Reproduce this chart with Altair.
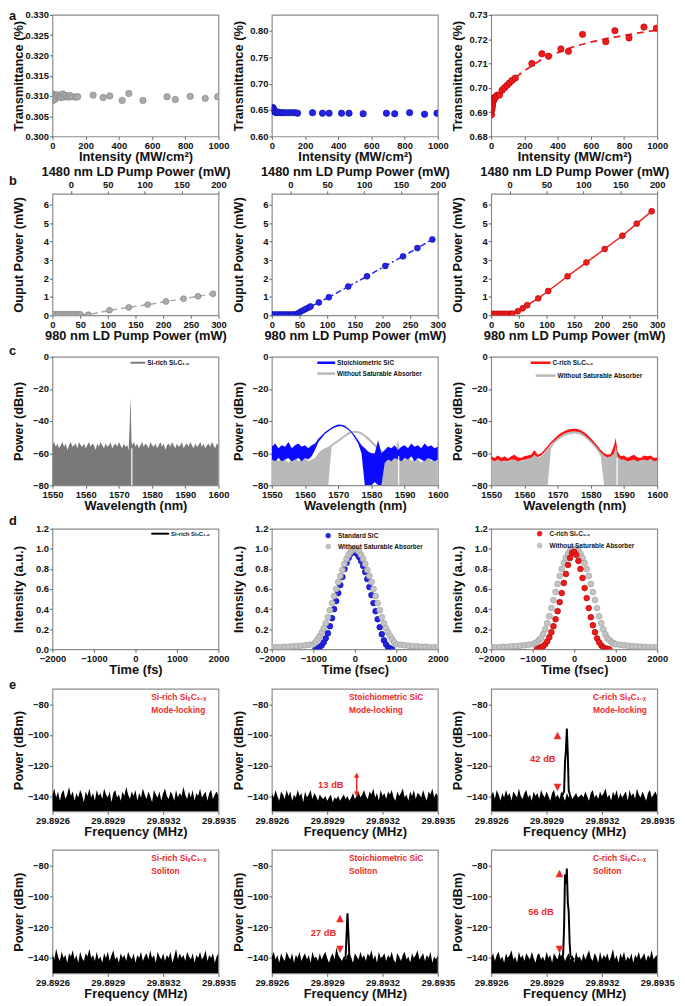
import altair as alt
import pandas as pd

FONT = "Liberation Sans"
NARROW = "Liberation Sans Narrow, Liberation Sans, Arial, sans-serif"
SYM = "DejaVu Sans"

W = 168
H_A, H_B, H_C, H_D, H_E1, H_E2 = 123, 123, 130, 122, 124, 125
COL_SP = 54
ROW_SP = 0
TITLE_X = -27

GRAY_PT, GRAY_ED = "#ababab", "#7c7c7c"
BLUE_PT, BLUE_ED = "#2424e8", "#0a0a99"
RED_PT, RED_ED = "#f01c1c", "#a80000"
SPEC_GRAY = "#b9b9b9"
SPEC_DARK = "#7a7a7a"
SPEC_BLUE = "#0a0aff"
SPEC_RED = "#ff1010"
ANN = "#ee2a2a"

# ---------------- row a : transmittance ----------------
A_XT = [0, 200, 400, 600, 800, 1000]
A1_X = [3, 6, 9, 12, 16, 22, 30, 40, 50, 62, 68, 80, 95, 105, 120, 140, 152,
        245, 305, 345, 420, 460, 545, 690, 740, 830, 920, 995]
A1_Y = [0.3089, 0.3104, 0.3096, 0.3100, 0.3092, 0.3098, 0.3103, 0.3099, 0.3096, 0.3105,
        0.3097, 0.3101, 0.3097, 0.3101, 0.3098, 0.3097, 0.3098,
        0.3102, 0.3096, 0.3100, 0.3089, 0.3106, 0.3089, 0.3098, 0.3091, 0.3099, 0.3094, 0.3098]
A1_YT = [0.300, 0.305, 0.310, 0.315, 0.320, 0.325, 0.330]

A2_X = [3, 6, 10, 15, 20, 28, 38, 50, 65, 80, 100, 120, 140, 155,
        245, 305, 345, 420, 465, 550, 690, 740, 830, 920, 995]
A2_Y = [0.648, 0.655, 0.652, 0.650, 0.646, 0.645, 0.646, 0.645, 0.645, 0.645, 0.645, 0.645,
        0.645, 0.644, 0.645, 0.644, 0.644, 0.644, 0.644, 0.643, 0.644, 0.643, 0.645, 0.642, 0.644]
A2_YT = [0.60, 0.65, 0.70, 0.75, 0.80]

A3_X = [2, 4, 6, 8, 10, 12, 15, 20, 25, 35, 50, 65, 80, 95, 110, 125, 145,
        245, 305, 345, 420, 465, 550, 690, 745, 830, 920, 995]
A3_Y = [0.689, 0.691, 0.692, 0.693, 0.694, 0.695, 0.695, 0.696, 0.696, 0.697, 0.697, 0.699,
        0.700, 0.701, 0.702, 0.703, 0.704, 0.710, 0.714, 0.713, 0.716, 0.715, 0.722, 0.719,
        0.7235, 0.7205, 0.725, 0.7245]
A3_FIT_X = [0, 10, 25, 50, 100, 150, 200, 300, 400, 500, 600, 700, 800, 900, 1000]
A3_FIT_Y = [0.6885, 0.692, 0.695, 0.698, 0.7015, 0.7045, 0.707, 0.7115, 0.7145, 0.717,
            0.7188, 0.7203, 0.7216, 0.7227, 0.7237]
A3_YT = [0.68, 0.69, 0.70, 0.71, 0.72, 0.73]

# ---------------- row b : output power ----------------
B_XT = [0, 50, 100, 150, 200, 250, 300]
B_TT = [0, 50, 100, 150, 200]
B_YT = [0, 1, 2, 3, 4, 5, 6]
B1_X = [0, 5, 10, 15, 20, 25, 30, 35, 40, 45, 50, 65, 103, 138, 172, 205, 237, 263, 290]
B1_Y = [0.06, 0.06, 0.06, 0.06, 0.06, 0.06, 0.06, 0.06, 0.06, 0.06, 0.06, 0.03,
        0.27, 0.43, 0.58, 0.75, 0.90, 1.03, 1.17]
B2_X = [0, 5, 10, 15, 20, 25, 30, 35, 40, 45, 48, 52, 57, 62, 67, 70,
        85, 103, 138, 172, 205, 237, 263, 290]
B2_Y = [0.05, 0.05, 0.05, 0.05, 0.05, 0.05, 0.05, 0.05, 0.05, 0.06, 0.12, 0.20, 0.28, 0.36,
        0.43, 0.48, 0.70, 0.98, 1.56, 2.12, 2.68, 3.20, 3.65, 4.12]
B3_X = [0, 5, 10, 15, 20, 25, 30, 35, 38, 48, 57, 65, 85, 103, 138, 172, 205, 237, 263, 290]
B3_Y = [0.08, 0.08, 0.08, 0.08, 0.08, 0.08, 0.08, 0.08, 0.08, 0.22, 0.38, 0.55,
        0.92, 1.32, 2.12, 2.87, 3.60, 4.32, 4.98, 5.65]

# ---------------- row c : optical spectra ----------------
C_XT = [1550, 1560, 1570, 1580, 1590, 1600]
C_YT = [-80, -60, -40, -20, 0]
C1_X = [1550 + 0.5 * i for i in range(101)]
C1_UP = [-55, -53, -56, -54, -57, -55, -53, -56, -54, -58,
         -55, -53, -56, -55, -54, -57, -53, -55, -56, -54,
         -57, -55, -53, -56, -54, -55, -58, -54, -56, -53,
         -55, -57, -54, -56, -55, -53, -57, -55, -54, -56,
         -53, -55, -57, -54, -56, -55, -58, -54, -55, -53,
         -56, -54, -57, -55, -53, -56, -54, -55, -57, -53,
         -55, -56, -54, -57, -55, -53, -56, -54, -58, -55,
         -54, -56, -53, -55, -57, -54, -56, -55, -53, -57,
         -55, -54, -56, -53, -55, -57, -54, -56, -55, -53,
         -56, -54, -57, -55, -54, -56, -53, -55, -57, -54,
         -55]
C1_SPK_X = [1573.0, 1573.3, 1573.45, 1573.6, 1573.8, 1574.0]
C1_SPK_Y = [-55, -40, -26, -32, -52, -55]

C_X = list(range(1550, 1601))
C2_BLUE_UP = [-56, -54, -57, -55, -56, -53, -57, -55, -54, -56,
              -55, -57, -55, -54, -51, -49, -47, -45.5, -44, -43,
              -42.2, -42.3, -43, -44.5, -46.5, -49, -52, -55, -57, -59,
              -60, -60, -52, -60, -58, -56, -57, -55, -58, -56,
              -55, -57, -54, -56, -55, -57, -54, -56, -55, -57, -56]
C2_BLUE_LO = [-64, -65, -63, -65, -64, -63, -65, -64, -63, -65,
              -63, -64, -62, -58, -53, -50.5, -48, -46.5, -45, -44,
              -43.2, -43.3, -44, -45.5, -47.5, -50.5, -54, -60, -80, -80,
              -80, -78, -80, -80, -66, -64, -65, -63, -64, -65,
              -63, -64, -62, -65, -63, -64, -65, -63, -64, -65, -64]
C2_GRAY_UP = [-64, -62, -65, -63, -64, -66, -63, -62, -65, -64,
              -63, -65, -64, -63, -60, -58, -57, -56, -54.5, -53,
              -51.5, -50, -48.5, -47, -46.3, -46, -46.3, -47, -48.5, -50,
              -52, -54, -56, -58, -60, -61, -62, -60, -52, -63,
              -64, -62, -65, -63, -64, -66, -63, -62, -65, -64, -63]
C2_GRAY_LO = [-80, -80, -80, -80, -80, -80, -80, -80, -80, -80,
              -80, -80, -80, -80, -80, -80, -80, -80, -56, -54.5,
              -53, -51.5, -50, -48.5, -47.5, -47.3, -47.5, -48.5, -50, -52,
              -54, -56, -58, -80, -80, -80, -80, -80, -80, -80,
              -80, -80, -80, -80, -80, -80, -80, -80, -80, -80, -80]

C3_X = list(range(1550, 1588)) + [1587.5] + list(range(1588, 1601))
C3_RED_UP = [-62, -63, -61.5, -63, -62, -63.5, -62, -61, -62.5, -63,
             -62, -61.5, -61, -58, -61, -60, -58, -55.5, -53, -51,
             -49, -47.5, -46.3, -45.5, -45, -44.8, -45, -45.7, -47, -48.7,
             -50.7, -53, -55.5, -58, -60, -61, -60.5, -55,
             -50.5,
             -59, -62, -61.5, -63, -62, -61, -62.5, -63, -61.5, -62, -61.5, -63, -62.5]
C3_RED_LO = [-64, -65, -64, -65, -64.5, -65, -64, -64, -65, -64.5,
             -64, -63.5, -63, -61, -62.5, -61.5, -59.5, -57, -54.5, -52.5,
             -50.5, -49, -47.8, -47, -46.5, -46.3, -46.5, -47.2, -48.5, -50.2,
             -52.2, -54.5, -57, -59.5, -61.5, -62.5, -62, -60,
             -55,
             -62, -64, -64, -65, -64.5, -64, -65, -64.5, -64, -64.5, -63.5, -65, -64.5]
C3_GRAY_UP = [-64, -65, -63.5, -65, -64, -65.5, -64, -63, -64.5, -65,
              -64, -63.5, -63, -59, -63, -62, -60, -57, -55, -52,
              -50, -48.5, -47.3, -46.5, -46, -45.8, -46, -46.7, -48, -49.7,
              -51.7, -54, -56.5, -59, -61, -62, -61.5, -57,
              -52,
              -61, -64, -63.5, -65, -64, -63, -64.5, -65, -63.5, -64, -63.5, -65, -64.5]
C3_GRAY_LO = [-80, -80, -80, -80, -80, -80, -80, -80, -80, -80,
              -80, -80, -80, -80, -80, -80, -80, -80, -57, -54,
              -52, -50.5, -49.3, -48.5, -48, -47.8, -48, -48.7, -50, -51.7,
              -53.7, -56, -58.5, -62, -80, -80, -80, -80,
              -80,
              -80, -80, -80, -80, -80, -80, -80, -80, -80, -80, -80, -80, -80]

# ---------------- row d : autocorrelation ----------------
D_XT = [-2000, -1000, 0, 1000, 2000]
D_YT = [0.0, 0.2, 0.4, 0.6, 0.8, 1.0, 1.2]
D2_BLUE_X = list(range(-950, 901, 50))
D2_BLUE_Y = [0.00, 0.01, 0.02, 0.04, 0.07, 0.11, 0.16, 0.23, 0.31, 0.40,
             0.48, 0.56, 0.64, 0.72, 0.80, 0.86, 0.91, 0.95, 0.98, 0.97,
             0.95, 0.92, 0.88, 0.83, 0.77, 0.70, 0.62, 0.54, 0.46, 0.38,
             0.30, 0.22, 0.15, 0.09, 0.05, 0.02, 0.01, 0.00]
D_GRAY_X = (list(range(-2000, -1000, 100)) + list(range(-1000, 1001, 50))
            + list(range(1100, 2001, 100)))
D2_GRAY_Y = [0.02, 0.02, 0.02, 0.025, 0.025, 0.03, 0.03, 0.035, 0.04, 0.045,
             0.05, 0.07, 0.10, 0.13, 0.17, 0.21, 0.26, 0.32, 0.39, 0.46,
             0.53, 0.60, 0.67, 0.73, 0.79, 0.85, 0.90, 0.94, 0.97, 0.99,
             1.00,
             0.99, 0.97, 0.94, 0.90, 0.85, 0.79, 0.73, 0.67, 0.60, 0.53,
             0.46, 0.39, 0.32, 0.26, 0.21, 0.17, 0.13, 0.10, 0.07, 0.05,
             0.045, 0.04, 0.035, 0.03, 0.03, 0.025, 0.025, 0.02, 0.02, 0.02]
D3_RED_X = list(range(-900, 851, 50))
D3_RED_Y = [0.00, 0.01, 0.02, 0.03, 0.05, 0.08, 0.12, 0.17, 0.23, 0.30,
            0.38, 0.47, 0.56, 0.66, 0.75, 0.84, 0.91, 0.96, 0.97, 0.94,
            0.88, 0.80, 0.71, 0.61, 0.51, 0.41, 0.32, 0.24, 0.17, 0.11,
            0.07, 0.04, 0.02, 0.01, 0.005, 0.00]
D3_GRAY_Y = [0.02, 0.02, 0.02, 0.025, 0.025, 0.03, 0.03, 0.035, 0.04, 0.045,
             0.05, 0.06, 0.07, 0.09, 0.11, 0.15, 0.20, 0.26, 0.33, 0.41,
             0.49, 0.57, 0.65, 0.73, 0.80, 0.86, 0.91, 0.95, 0.98, 1.00,
             1.00,
             1.00, 0.98, 0.95, 0.91, 0.86, 0.80, 0.73, 0.65, 0.57, 0.49,
             0.41, 0.33, 0.26, 0.20, 0.15, 0.11, 0.09, 0.07, 0.06, 0.05,
             0.045, 0.04, 0.035, 0.03, 0.03, 0.025, 0.025, 0.02, 0.02, 0.02]

# ---------------- row e : RF spectra ----------------
E_XT = [29.8926, 29.8929, 29.8932, 29.8935]
E_YT = [-140, -120, -100, -80]
E_X = [round(29.8926 + i * 0.00001, 5) for i in range(91)]
E1L = [-139, -135, -141, -137, -143, -138, -136, -142, -139, -134,
       -140, -137, -143, -138, -141, -136, -139, -144, -137, -140,
       -135, -141, -138, -143, -136, -140, -138, -142, -135, -139,
       -141, -137, -144, -138, -136, -141, -139, -143, -137, -140,
       -134, -139, -142, -137, -140, -136, -143, -138, -141, -135,
       -139, -142, -137, -140, -144, -136, -139, -141, -137, -143,
       -138, -135, -140, -142, -137, -139, -143, -136, -141, -138,
       -140, -134, -139, -142, -137, -141, -136, -143, -138, -140,
       -135, -141, -139, -137, -143, -138, -136, -142, -139, -137,
       -140]
E1M = [-138, -141, -136, -140, -143, -137, -139, -142, -136, -140,
       -137, -143, -139, -141, -136, -140, -138, -144, -137, -141,
       -139, -136, -142, -138, -140, -143, -139, -141, -142, -140,
       -143, -141, -139, -144, -141, -142, -140, -143, -141, -139,
       -142, -140, -143, -141, -138, -142, -140, -137, -141, -139,
       -136, -140, -142, -137, -139, -135, -141, -138, -143, -136,
       -140, -138, -142, -137, -139, -136, -141, -143, -137, -140,
       -138, -135, -141, -139, -143, -137, -140, -136, -142, -138,
       -139, -141, -136, -140, -143, -137, -139, -135, -141, -138,
       -140]
E1R = [-140, -137, -142, -136, -139, -143, -138, -141, -136, -140,
       -138, -143, -137, -139, -141, -135, -140, -142, -138, -136,
       -141, -139, -143, -137, -140, -138, -142, -136, -139, -141,
       -137, -140, -143, -138, -136, -141, -139, -142, -137, -140,
       -143, -138, -141, -139, -142, -140, -138, -141, -140, -139,
       -141, -137, -140, -143, -138, -136, -141, -139, -142, -137,
       -140, -138, -135, -141, -139, -143, -137, -140, -136, -142,
       -138, -141, -139, -137, -143, -136, -140, -138, -142, -135,
       -139, -141, -137, -140, -143, -138, -136, -141, -139, -137,
       -140]
E2L = [-137, -141, -134, -139, -142, -136, -140, -138, -143, -137,
       -139, -135, -141, -138, -143, -136, -140, -142, -137, -139,
       -134, -140, -138, -142, -136, -141, -139, -143, -137, -140,
       -136, -142, -138, -135, -141, -139, -143, -137, -140, -138,
       -142, -136, -139, -141, -137, -143, -138, -140, -136, -142,
       -139, -137, -141, -135, -140, -138, -143, -136, -139, -141,
       -137, -142, -138, -140, -136, -143, -139, -134, -141, -137,
       -140, -138, -142, -136, -139, -141, -137, -143, -138, -140,
       -136, -141, -139, -135, -142, -138, -140, -137, -143, -139,
       -137]
E2M = [-139, -136, -141, -138, -143, -137, -140, -142, -136, -139,
       -141, -137, -143, -138, -140, -136, -142, -139, -137, -141,
       -138, -143, -136, -140, -139, -142, -137, -141, -138, -136,
       -140, -143, -139, -137, -141, -133, -138, -140, -142, -139,
       -141, -138, -136, -140, -143, -137, -139, -141, -136, -140,
       -138, -142, -137, -139, -135, -141, -138, -143, -136, -140,
       -139, -137, -142, -138, -140, -136, -141, -143, -137, -139,
       -142, -138, -136, -141, -139, -143, -137, -140, -138, -135,
       -141, -139, -137, -142, -138, -140, -136, -143, -139, -141,
       -138]
E2R = [-140, -137, -142, -138, -136, -141, -139, -143, -137, -140,
       -138, -135, -141, -139, -143, -136, -140, -138, -142, -137,
       -139, -141, -136, -140, -143, -138, -137, -141, -139, -142,
       -136, -140, -138, -143, -137, -139, -141, -136, -140, -138,
       -142, -139, -137, -141, -138, -143, -136, -140, -139, -142,
       -137, -141, -138, -135, -140, -142, -137, -139, -143, -136,
       -141, -138, -140, -137, -142, -139, -134, -141, -138, -143,
       -137, -140, -136, -142, -139, -141, -137, -143, -138, -140,
       -136, -141, -139, -137, -142, -138, -140, -135, -141, -139,
       -138]
E1R_PK_X = [29.89298, 29.892995, 29.893, 29.893005, 29.89301, 29.893015, 29.89302, 29.89303]
E1R_PK_Y = [-141, -137, -118, -110, -96, -112, -136, -141]
E2M_PK_X = [29.89299, 29.893, 29.893005, 29.89301, 29.893015, 29.89302, 29.89303]
E2M_PK_Y = [-141, -139, -125, -111, -124, -139, -141]
E2R_PK_X = [29.89297, 29.89299, 29.892995, 29.893, 29.893005, 29.89301, 29.893015,
            29.89302, 29.893025, 29.89303, 29.89305]
E2R_PK_Y = [-141, -138, -120, -86, -92, -82, -104, -110, -130, -139, -141]

# annotations (data coords)
E1M_ARROW = (29.89306, -126, -138.5)
E1M_LABEL = (29.89292, -133, "13 dB")
E1R_TRI = ([29.89296, 29.89296], [-100, -134], ["▲", "▼"])
E1R_LABEL = (29.89288, -116, "42 dB")
E2M_TRI = ([29.89297, 29.89297], [-114, -134], ["▲", "▼"])
E2M_LABEL = (29.89288, -124, "27 dB")
E2R_TRI = ([29.89297, 29.89297], [-85, -134], ["▲", "▼"])
E2R_LABEL = (29.89287, -110, "56 dB")

SIRICH = "Si-rich SiₓC₁₋ₓ"
CRICH = "C-rich SiₓC₁₋ₓ"
STOICH = "Stoichiometric SiC"
WOSA = "Without Saturable Absorber"

ONE = pd.DataFrame({"k": [0]})


def df(**cols):
    n = min(len(v) for v in cols.values())
    return pd.DataFrame({k: list(v)[:n] for k, v in cols.items()})


def sc(dom):
    return alt.Scale(domain=dom, nice=False, zero=False)


def axis(title, values, fmt, **kw):
    return alt.Axis(title=title, values=values, format=fmt, **kw)


def ptext(s, px, py, size=9, color="#111", align="left", font=FONT, opacity=1):
    return alt.Chart(ONE).mark_text(text=s, fontSize=size, font=font, fontWeight="bold",
                                    color=color, align=align, baseline="middle",
                                    opacity=opacity).encode(x=alt.value(px), y=alt.value(py))


def prule(x1, x2, py, color, width=2.5):
    return alt.Chart(ONE).mark_rule(color=color, strokeWidth=width).encode(
        x=alt.value(x1), x2=alt.value(x2), y=alt.value(py))


def pdot(px, py, color, edge, size=26):
    return alt.Chart(ONE).mark_circle(size=size, color=color, stroke=edge, strokeWidth=0.5,
                                      opacity=1).encode(x=alt.value(px), y=alt.value(py))


def letter(s, py, opacity=1):
    return ptext(s, -44, py, size=13, opacity=opacity)


def pts(xs, ys, fill, edge, X, Y, size=40):
    return alt.Chart(df(x=xs, y=ys)).mark_circle(size=size, color=fill, stroke=edge,
                                                 strokeWidth=0.6, opacity=1, clip=True).encode(X, Y)


def line(xs, ys, color, X, Y, width=1.5, dash=None):
    kw = dict(color=color, strokeWidth=width, clip=True)
    if dash:
        kw["strokeDash"] = dash
    return alt.Chart(df(x=xs, y=ys)).mark_line(**kw).encode(X, Y)


def band(xs, up, lo, color, X, Y):
    return alt.Chart(df(x=xs, y=up, lo=lo)).mark_area(color=color, opacity=1, clip=True).encode(
        X, Y, alt.Y2("lo:Q"))


def floor_area(xs, up, floor, color, X, Y):
    return alt.Chart(df(x=xs, y=up)).mark_area(color=color, opacity=1, clip=True).encode(
        X, Y, y2=alt.datum(floor))


def vline(x, y1, y2, color, X, Y, width=1.5):
    return alt.Chart(df(x=[x], y=[y1], y2=[y2])).mark_rule(color=color, strokeWidth=width,
                                                           clip=True).encode(X, Y, alt.Y2("y2:Q"))


def dtext(xs, ys, ts, color, X, Y, size=9.5, font=FONT):
    return alt.Chart(df(x=xs, y=ys, t=ts)).mark_text(color=color, fontSize=size, font=font,
                                                     fontWeight="bold").encode(X, Y, text="t:N")


# ---------------- build row a ----------------
def a_panel(xs, ys, fill, edge, ydom, yt, fmt, fit=None, extra=()):
    X = alt.X("x:Q", scale=sc([0, 1000]), axis=axis("Intensity (MW/cm²)", A_XT, "d"))
    Y = alt.Y("y:Q", scale=sc(ydom), axis=axis("Transmittance (%)", yt, fmt, titleX=TITLE_X))
    layers = []
    if fit:
        layers.append(line(fit[0], fit[1], fill, X, Y, width=1.8, dash=[7, 5]))
    layers.append(pts(xs, ys, fill, edge, X, Y, size=42))
    layers += list(extra)
    return alt.layer(*layers).properties(width=W, height=H_A)


row_a = alt.hconcat(
    a_panel(A1_X, A1_Y, GRAY_PT, GRAY_ED, [0.300, 0.330], A1_YT, ".3f", extra=[letter("a", 1)]),
    a_panel(A2_X, A2_Y, BLUE_PT, BLUE_ED, [0.60, 0.83], A2_YT, ".2f"),
    a_panel(A3_X, A3_Y, RED_PT, RED_ED, [0.68, 0.73], A3_YT, ".2f", fit=(A3_FIT_X, A3_FIT_Y)),
    spacing=COL_SP, bounds="flush")


# ---------------- build row b ----------------
def b_panel(xs, ys, fill, edge, dash, extra=()):
    X = alt.X("x:Q", scale=sc([0, 300]), axis=axis("980 nm LD Pump Power (mW)", B_XT, "d"))
    Y = alt.Y("y:Q", scale=sc([0, 6.6]), axis=axis("Ouput Power (mW)", B_YT, "d", titleX=TITLE_X))
    inner = alt.layer(line(xs, ys, fill, X, Y, width=1.5, dash=dash),
                      pts(xs, ys, fill, edge, X, Y, size=36), *extra)
    top = alt.Chart(df(t=[0, 200])).mark_point(opacity=0).encode(
        x=alt.X("t:Q", scale=sc([-25, 200]),
                axis=axis("1480 nm LD Pump Power (mW)", B_TT, "d", orient="top")),
        y=alt.value(0))
    return alt.layer(inner, top).resolve_scale(x="independent").properties(width=W, height=H_B)


row_b = alt.hconcat(
    b_panel(B1_X, B1_Y, GRAY_PT, GRAY_ED, [6, 4], extra=[letter("b", -13)]),
    b_panel(B2_X, B2_Y, BLUE_PT, BLUE_ED, [6, 3, 2, 3]),
    b_panel(B3_X, B3_Y, RED_PT, RED_ED, None),
    spacing=COL_SP, bounds="flush")


# ---------------- build row c ----------------
def c_enc():
    X = alt.X("x:Q", scale=sc([1550, 1600]), axis=axis("Wavelength (nm)", C_XT, "d"))
    Y = alt.Y("y:Q", scale=sc([-80, 0]), axis=axis("Power (dBm)", C_YT, "d", titleX=TITLE_X))
    return X, Y


X, Y = c_enc()
c_left = alt.layer(
    floor_area(C1_X, C1_UP, -80, SPEC_DARK, X, Y),
    floor_area(C1_SPK_X, C1_SPK_Y, -80, SPEC_DARK, X, Y),
    vline(1573.9, -80, -57, "white", X, Y, width=1.2),
    prule(79, 94, 6, SPEC_DARK, 2), ptext(SIRICH, 96, 6, size=6.5),
    letter("c", -6),
).properties(width=W, height=H_C)

X, Y = c_enc()
c_mid = alt.layer(
    band(C_X, C2_GRAY_UP, C2_GRAY_LO, SPEC_GRAY, X, Y),
    band(C_X, C2_BLUE_UP, C2_BLUE_LO, SPEC_BLUE, X, Y),
    vline(1588.2, -80, -62, "white", X, Y, width=1.2),
    prule(46, 64, 6, SPEC_BLUE, 2.5), ptext(STOICH, 66, 6, size=6.5),
    prule(46, 64, 17, SPEC_GRAY, 2.5), ptext(WOSA, 66, 17, size=6.5),
).properties(width=W, height=H_C)

X, Y = c_enc()
c_right = alt.layer(
    band(C3_X, C3_GRAY_UP, C3_GRAY_LO, SPEC_GRAY, X, Y),
    band(C3_X, C3_RED_UP, C3_RED_LO, SPEC_RED, X, Y),
    vline(1587.9, -80, -63, "white", X, Y, width=1.2),
    prule(40, 60, 6, SPEC_RED, 2.5), ptext(CRICH, 62, 6, size=6.5),
    prule(45, 65, 19, SPEC_GRAY, 2.5), ptext(WOSA, 67, 19, size=6.5),
).properties(width=W, height=H_C)

row_c = alt.hconcat(c_left, c_mid, c_right, spacing=COL_SP, bounds="flush")


# ---------------- build row d ----------------
def d_enc(xtitle):
    X = alt.X("x:Q", scale=sc([-2000, 2000]), axis=axis(xtitle, D_XT, "d"))
    Y = alt.Y("y:Q", scale=sc([0, 1.2]), axis=axis("Intensity (a.u.)", D_YT, ".1f", titleX=TITLE_X))
    return X, Y


X, Y = d_enc("Time (fs)")
d_left = alt.layer(
    alt.Chart(df(x=[0], y=[0.5])).mark_point(opacity=0).encode(X, Y),
    prule(100, 118, 5, "#000", 2), ptext(SIRICH, 120, 5, size=6),
    letter("d", -8),
).properties(width=W, height=H_D)

X, Y = d_enc("Time (fsec)")
d_mid = alt.layer(
    pts(D2_BLUE_X, D2_BLUE_Y, BLUE_PT, BLUE_ED, X, Y, size=34),
    pts(D_GRAY_X, D2_GRAY_Y, "#c4c4c4", "#9a9a9a", X, Y, size=36),
    pdot(57, 7, BLUE_PT, BLUE_ED, 24), ptext("Standard SiC", 67, 7, size=6.5),
    pdot(57, 18, "#c4c4c4", "#9a9a9a", 24), ptext(WOSA, 67, 18, size=6.5),
).properties(width=W, height=H_D)

X, Y = d_enc("Time (fsec)")
d_right = alt.layer(
    pts(D_GRAY_X, D3_GRAY_Y, "#c4c4c4", "#9a9a9a", X, Y, size=36),
    pts(D3_RED_X, D3_RED_Y, RED_PT, RED_ED, X, Y, size=34),
    pdot(49, 5, RED_PT, RED_ED, 24), ptext(CRICH, 59, 5, size=6.5),
    pdot(49, 17, "#c4c4c4", "#9a9a9a", 24), ptext(WOSA, 59, 17, size=6.5),
).properties(width=W, height=H_D)

row_d = alt.hconcat(d_left, d_mid, d_right, spacing=COL_SP, bounds="flush")


# ---------------- build rows e ----------------
def e_enc():
    X = alt.X("x:Q", scale=sc([29.8926, 29.8935]), axis=axis("Frequency (MHz)", E_XT, ".4f"))
    Y = alt.Y("y:Q", scale=sc([-150, -70]), axis=axis("Power (dBm)", E_YT, "d", titleX=TITLE_X))
    return X, Y


def e_panel(noise, line1, line2, tx, h, peak=None, tri=None, label=None, arrow=None, extra=()):
    X, Y = e_enc()
    layers = [floor_area(E_X, noise, -150, "#000", X, Y)]
    if peak:
        layers.append(line(peak[0], peak[1], "#000", X, Y, width=2))
    if arrow:
        layers.append(vline(arrow[0], arrow[1], arrow[2], ANN, X, Y, width=1.5))
        layers.append(dtext([arrow[0], arrow[0]], [arrow[1], arrow[2]], ["▲", "▼"], ANN, X, Y,
                            size=7, font=SYM))
    if tri:
        layers.append(dtext(tri[0], tri[1], tri[2], ANN, X, Y, size=10, font=SYM))
    if label:
        layers.append(dtext([label[0]], [label[1]], [label[2]], ANN, X, Y, size=9.5))
    layers.append(ptext(line1, tx, 8, size=8.5, color=ANN))
    layers.append(ptext(line2, tx, 21, size=8.5, color=ANN))
    layers += list(extra)
    return alt.layer(*layers).properties(width=W, height=h)


row_e1 = alt.hconcat(
    e_panel(E1L, SIRICH, "Mode-locking", 100, H_E1, extra=[letter("e", -4)]),
    e_panel(E1M, STOICH, "Mode-locking", 78, H_E1, arrow=E1M_ARROW, label=E1M_LABEL),
    e_panel(E1R, CRICH, "Mode-locking", 103, H_E1, peak=(E1R_PK_X, E1R_PK_Y), tri=E1R_TRI,
            label=E1R_LABEL),
    spacing=COL_SP, bounds="flush")

row_e2 = alt.hconcat(
    e_panel(E2L, SIRICH, "Soliton", 100, H_E2, extra=[letter("e", -3, opacity=0)]),
    e_panel(E2M, STOICH, "Soliton", 78, H_E2, peak=(E2M_PK_X, E2M_PK_Y), tri=E2M_TRI,
            label=E2M_LABEL),
    e_panel(E2R, CRICH, "Soliton", 103, H_E2, peak=(E2R_PK_X, E2R_PK_Y), tri=E2R_TRI,
            label=E2R_LABEL),
    spacing=COL_SP, bounds="flush")

chart = alt.vconcat(row_a, row_b, row_c, row_d, row_e1, row_e2, spacing=ROW_SP).properties(
    padding={"left": 0, "top": -5, "right": 2, "bottom": 0}, background="white"
).configure_view(stroke="#8c8c8c", strokeWidth=1.2).configure_axis(
    labelFont=NARROW, labelFontSize=9.5, labelFontWeight="bold", labelColor="#111",
    titleFont=FONT, titleFontSize=13, titleFontWeight="bold", titleColor="#111",
    tickColor="#666", tickSize=3, labelPadding=1, titlePadding=1, domain=False, grid=False,
    labelFlush=False, labelOverlap=False)

chart.save("out.html", embed_options={"renderer": "svg", "actions": False})
